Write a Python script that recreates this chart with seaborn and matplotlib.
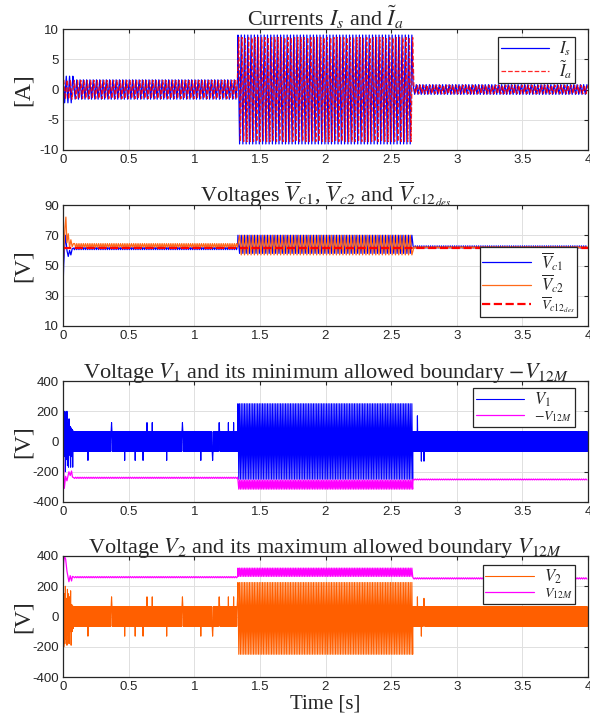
import numpy as np
import matplotlib
matplotlib.use("Agg")
import matplotlib.pyplot as plt
import seaborn as sns

sns.set_style("whitegrid")
plt.rcParams['font.family'] = ['Liberation Serif', 'DejaVu Serif']
plt.rcParams['mathtext.fontset'] = 'stix'
plt.rcParams['axes.unicode_minus'] = False

# ---- values ----
# segment edges [s]: start-up, load 1, load 2, load 3
edges = [0.0, 0.08, 1.333, 2.667, 4.0]

# currents: band half-width per segment, stripes per second
is_amp = [2.2, 1.6, 9.0, 0.8]
ia_amp = [1.6, 1.5, 8.6, 0.7]
cur_freq = [40, 40, 40, 40]

# capacitor voltages: band top / bottom per segment
vc1_hi = [62, 62.5, 70, 63]
vc1_lo = [56, 60.5, 58, 61.5]
vc2_hi = [71, 64.5, 70, 62.5]
vc2_lo = [62, 62, 57, 61.5]
vc_freq = [60, 60, 40, 60]
vc1_start_t = [0.0, 0.005, 0.012, 0.02, 0.03, 0.04, 0.05, 0.06, 0.07, 0.08]
vc1_start_v = [33, 50, 62, 70, 60, 56, 60, 57, 61, 60.5]
vc2_start_t = [0.0, 0.008, 0.015, 0.022, 0.03, 0.04, 0.05, 0.06, 0.07, 0.08]
vc2_start_v = [50, 62, 75, 82, 65, 71, 62, 67, 62.5, 64.5]
vc12_des = 61.8

# V1 and -V12M
v1_hi = [200, 65, 250, 65]
v1_lo = [-170, -65, -250, -65]
v1_freq = [120, 150, 80, 150]
v1_start_t = [0, 0.003, 0.006, 0.01, 0.014, 0.018, 0.022, 0.026, 0.03, 0.034, 0.038,
              0.042, 0.046, 0.05, 0.054, 0.058, 0.062, 0.066, 0.07, 0.074, 0.078]
v1_start_v = [250, -150, 180, -100, 200, -200, 190, -120, 200, -160, 120,
              -170, 150, -90, 100, -170, 90, -100, 80, -170, 70]
v1_spike_t = [0.19, 0.37, 0.47, 0.55, 0.61, 0.64, 0.68, 0.79, 0.91, 1.05, 1.14, 1.19, 1.26, 1.30, 2.70, 2.73, 2.75]
v1_spike_v = [-125, 125, -125, -125, -125, 125, 125, -125, 125, -125, -125, 125, 125, 125, 170, -130, -130]
nv12_hi = [-200, -236, -255, -248]
nv12_lo = [-250, -244, -315, -254]
nv12_freq = [60, 60, 80, 60]
nv12_start_t = [0.0, 0.005, 0.01, 0.02, 0.03, 0.045, 0.055, 0.065, 0.072, 0.08]
nv12_start_v = [0, -150, -310, -230, -260, -200, -225, -195, -235, -240]

# V2 and V12M
v2_hi = [200, 65, 225, 65]
v2_lo = [-250, -65, -250, -65]
v2_freq = [120, 150, 80, 150]
v2_start_t = [0, 0.003, 0.006, 0.01, 0.014, 0.018, 0.022, 0.026, 0.03, 0.034, 0.038,
              0.042, 0.046, 0.05, 0.054, 0.058, 0.062, 0.066, 0.07, 0.074, 0.078]
v2_start_v = [-250, 190, -200, 150, -180, 200, -150, 120, -190, 180, -120,
              150, -180, 130, -100, 170, -190, 80, -100, 70, -80]
v2_spike_t = [0.19, 0.37, 0.47, 0.55, 0.61, 0.64, 0.68, 0.79, 0.91, 1.05, 1.14, 1.19, 1.26, 1.30, 1.33, 2.70, 2.73, 2.75]
v2_spike_v = [-130, 130, -130, -130, -130, 130, 130, -130, 130, -130, -130, 130, 130, 130, 130, 130, -130, 120]
v12_hi = [300, 264, 320, 256]
v12_lo = [230, 256, 265, 248]
v12_freq = [60, 60, 80, 60]
v12_start_t = [0.0, 0.005, 0.01, 0.02, 0.03, 0.045, 0.055, 0.065, 0.072, 0.08]
v12_start_v = [200, 350, 400, 380, 300, 230, 270, 235, 265, 260]


def band(hi, lo, freq, start_t=None, start_v=None, shift=0.0):
    # zig-zag between the top and bottom of each band
    ts, ys = [], []
    for k in range(len(edges) - 1):
        t0, t1 = edges[k], edges[k + 1]
        if k == 0 and start_t is not None:
            ts.append(np.array(start_t))
            ys.append(np.array(start_v, dtype=float))
            continue
        t = np.arange(t0 + shift / freq[k], t1, 1.0 / (2 * freq[k]))
        y = np.where(np.arange(len(t)) % 2 == 0, hi[k], lo[k]).astype(float)
        ts.append(t)
        ys.append(y)
    return np.concatenate(ts), np.concatenate(ys)


def add_spikes(t, y, spike_t, spike_v):
    for st, sv in zip(spike_t, spike_v):
        y[np.argmin(np.abs(t - st))] = sv
    return y


def style(ax, ylim, yticks, ylabel):
    ax.set_xlim(0, 4)
    ax.set_ylim(*ylim)
    ax.set_yticks(yticks)
    ax.set_xticks([0, 0.5, 1, 1.5, 2, 2.5, 3, 3.5, 4])
    ax.set_xticklabels(['0', '0.5', '1', '1.5', '2', '2.5', '3', '3.5', '4'])
    ax.tick_params(direction='in', top=True, right=True, length=3, width=0.8,
                   labelsize=9.5, labelfontfamily='Liberation Sans', pad=3, colors='#262626')
    ax.grid(True, color='#e0e0e0', linewidth=0.7)
    for s in ax.spines.values():
        s.set_color('#262626')
        s.set_linewidth(0.9)
    ax.set_ylabel(ylabel, fontsize=17)
    ax.yaxis.set_label_coords(-0.056, 0.5)


def legend(ax, loc, anchor, handles=None, labels=None, small=None):
    if handles is None:
        handles, labels = ax.get_legend_handles_labels()
    leg = ax.legend(handles, labels, loc=loc, bbox_to_anchor=anchor, fontsize=12,
                    frameon=True, fancybox=False, edgecolor='#262626', framealpha=1,
                    borderpad=0.15, handlelength=2.9, handletextpad=0.6,
                    labelspacing=0.0, borderaxespad=0)
    leg.get_frame().set_linewidth(0.9)
    if small is not None:
        leg.get_texts()[small].set_fontsize(10)
    return leg


fig = plt.figure(figsize=(5.9, 7.23), dpi=100)
H = 121 / 723
rects = [(63 / 590, (723 - 150) / 723, 525 / 590, H),
         (63 / 590, (723 - 326) / 723, 525 / 590, H),
         (63 / 590, (723 - 502) / 723, 525 / 590, H),
         (63 / 590, (723 - 677) / 723, 525 / 590, H)]
axs = [fig.add_axes(r) for r in rects]

# ---- currents ----
ax = axs[0]
t, y = band(is_amp, [-a for a in is_amp], cur_freq)
sns.lineplot(x=t, y=y, ax=ax, color='#0000ff', lw=0.9, sort=False, label='$I_s$')
t, y = band(ia_amp, [-a for a in ia_amp], cur_freq, shift=0.25)
sns.lineplot(x=t, y=y, ax=ax, color='#ff0000', lw=0.9, sort=False, linestyle='--', alpha=0.85,
             label=r'$\tilde{I}_a$')
style(ax, (-10, 10), [-10, -5, 0, 5, 10], '[A]')
ax.set_title(r'Currents $I_s$ and $\tilde{I}_a$', fontsize=16, pad=2)
legend(ax, 'upper right', (0.975, 0.93))

# ---- capacitor voltages ----
ax = axs[1]
t, y = band(vc1_hi, vc1_lo, vc_freq, vc1_start_t, vc1_start_v)
sns.lineplot(x=t, y=y, ax=ax, color='#0000ff', lw=0.9, sort=False, label=r'$\overline{V}_{c1}$')
t, y = band(vc2_hi, vc2_lo, vc_freq, vc2_start_t, vc2_start_v, shift=0.5)
sns.lineplot(x=t, y=y, ax=ax, color='#ff6a1a', lw=0.9, sort=False, label=r'$\overline{V}_{c2}$')
sns.lineplot(x=[0, 4], y=[vc12_des, vc12_des], ax=ax, color='#ff0000', lw=1.6,
             linestyle='--', label=r'$\overline{V}_{c12_{des}}$')
style(ax, (10, 90), [10, 30, 50, 70, 90], '[V]')
ax.set_title(r'Voltages $\overline{V}_{c1}$, $\overline{V}_{c2}$ and $\overline{V}_{c12_{des}}$',
             fontsize=16, pad=2)
legend(ax, 'lower right', (0.979, 0.074), small=2)

# ---- V1 ----
ax = axs[2]
t, y = band(v1_hi, v1_lo, v1_freq, v1_start_t, v1_start_v)
y = add_spikes(t, y, v1_spike_t, v1_spike_v)
sns.lineplot(x=t, y=y, ax=ax, color='#0000ff', lw=0.8, sort=False, label='$V_1$')
t, y = band(nv12_hi, nv12_lo, nv12_freq, nv12_start_t, nv12_start_v)
sns.lineplot(x=t, y=y, ax=ax, color='#ff00ff', lw=0.9, sort=False, label='$-V_{12M}$')
style(ax, (-400, 400), [-400, -200, 0, 200, 400], '[V]')
ax.set_title(r'Voltage $V_1$ and its minimum allowed boundary $-V_{12M}$', fontsize=16, pad=2)
legend(ax, 'upper right', (0.975, 0.942), small=1)

# ---- V2 ----
ax = axs[3]
t, y = band(v12_hi, v12_lo, v12_freq, v12_start_t, v12_start_v)
sns.lineplot(x=t, y=y, ax=ax, color='#ff00ff', lw=0.9, sort=False, label='$V_{12M}$')
t, y = band(v2_hi, v2_lo, v2_freq, v2_start_t, v2_start_v)
y = add_spikes(t, y, v2_spike_t, v2_spike_v)
sns.lineplot(x=t, y=y, ax=ax, color='#ff5f00', lw=0.8, sort=False, label='$V_2$')
style(ax, (-400, 400), [-400, -200, 0, 200, 400], '[V]')
ax.set_title(r'Voltage $V_2$ and its maximum allowed boundary $V_{12M}$', fontsize=16, pad=2)
h, l = ax.get_legend_handles_labels()
legend(ax, 'upper right', (0.975, 0.926), [h[1], h[0]], [l[1], l[0]], small=1)
ax.set_xlabel('Time [s]', fontsize=15, labelpad=1)

for a in axs[:3]:
    a.set_xlabel('')

fig.savefig('out.png', dpi=100)
